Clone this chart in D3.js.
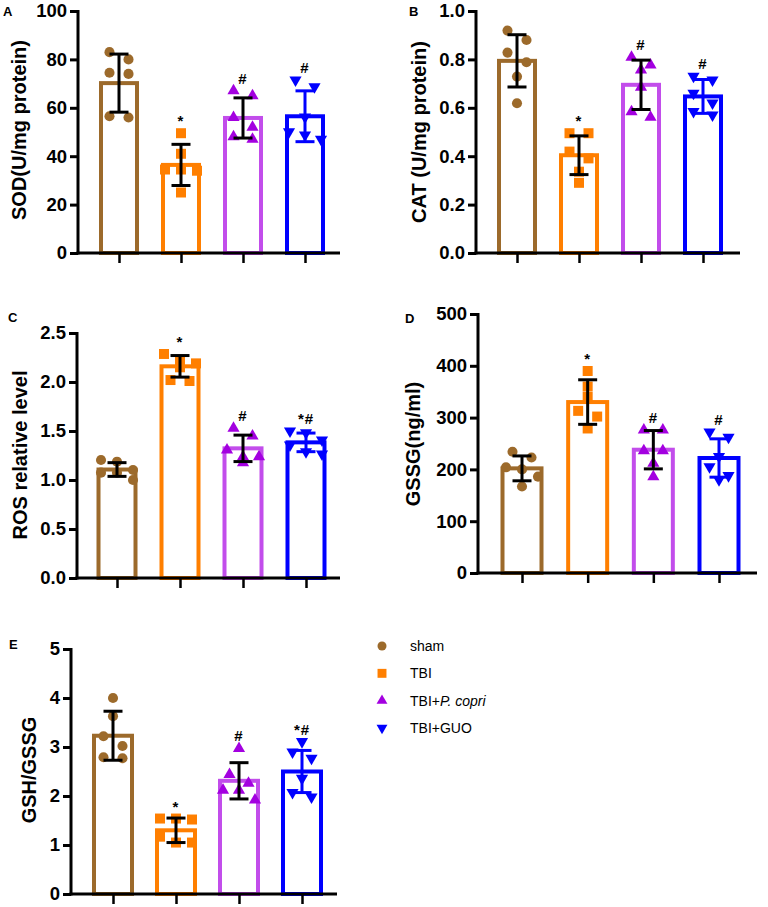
<!DOCTYPE html>
<html><head><meta charset="utf-8">
<script src="https://cdn.jsdelivr.net/npm/d3@7"></script>
<style>body{margin:0;background:#fff}svg{display:block;font-family:"Liberation Sans",Arial,sans-serif}</style>
</head><body><svg id="c" width="768" height="907"></svg>
<script>
const groups = ["sham", "TBI", "TBI+P. copri", "TBI+GUO"];
const barColors = ["#9C6A2B", "#FF7F00", "#C24DEB", "#0000FF"];
const pointColors = ["#9C6A2B", "#FF7F00", "#A300E0", "#0000FF"];
const errColors = ["#000000", "#000000", "#000000", "#0000FF"];

const sodMean = [70.2, 36.4, 55.8, 56.5];
const sodSD = [12, 8.5, 8.3, 10.5];
const sodPts = [[83, 80, 74, 74.5, 56, 56.5], [49.5, 41, 34.5, 34.5, 34, 25], [67, 65, 56, 52, 47, 48], [71.5, 68.7, 56.2, 50.1, 47, 48.8]];
const sodSig = ["", "*", "#", "#"];
const sodTicks = [0, 20, 40, 60, 80, 100];

const catMean = [0.794, 0.404, 0.695, 0.647];
const catSD = [0.108, 0.08, 0.102, 0.07];
const catPts = [[0.919, 0.88, 0.828, 0.788, 0.729, 0.619], [0.495, 0.495, 0.419, 0.391, 0.336, 0.29], [0.809, 0.777, 0.756, 0.685, 0.561, 0.584], [0.73, 0.715, 0.66, 0.62, 0.585, 0.57]];
const catSig = ["", "*", "#", "#"];
const catTicks = [0, 0.2, 0.4, 0.6, 0.8, 1.0];

const rosMean = [1.107, 2.16, 1.323, 1.384];
const rosSD = [0.07, 0.11, 0.135, 0.095];
const rosPts = [[1.204, 1.187, 1.102, 1.075, 1.075, 1.0], [2.286, 2.19, 2.224, 2.15, 2.01, 2.02], [1.527, 1.449, 1.306, 1.238, 1.177, 1.238], [1.5, 1.483, 1.408, 1.357, 1.289, 1.265]];
const rosSig = ["", "*", "#", "*#"];
const rosTicks = [0, 0.5, 1.0, 1.5, 2.0, 2.5];

const gssgMean = [202, 330, 238, 222];
const gssgSD = [24, 43, 37, 37];
const gssgPts = [[234, 223, 204, 200, 186, 167], [390, 360, 340, 313, 302, 279], [276, 276, 236, 236, 212, 186], [272, 262, 225, 205, 188, 180]];
const gssgSig = ["", "*", "#", "#"];
const gssgTicks = [0, 100, 200, 300, 400, 500];

const ratioMean = [3.23, 1.3, 2.31, 2.5];
const ratioSD = [0.5, 0.25, 0.37, 0.43];
const ratioPts = [[4.0, 3.63, 3.22, 3.02, 2.77, 2.79], [1.54, 1.52, 1.54, 1.17, 1.05, 1.05], [2.97, 2.44, 2.26, 2.12, 2.12, 1.92], [3.11, 2.9, 2.77, 2.36, 1.98, 2.07]];
const ratioSig = ["", "*", "#", "*#"];
const ratioTicks = [0, 1, 2, 3, 4, 5];

const svg = d3.select("#c");
const symbols = [d3.symbolCircle, d3.symbolSquare, d3.symbolTriangle, d3.symbolTriangle];
const symSizes = [80, 100, 64, 64];
const symRot = [0, 0, 0, 180];

const panels = [
  {label: "A", title: "SOD(U/mg protein)", mean: sodMean, sd: sodSD, pts: sodPts, sig: sodSig, ticks: sodTicks, fmt: d3.format("d"),
   x0: 78, x1: 340, c0: 119, c1: 305, yTop: 11, yBot: 253, lx: 3, ly: 16, tx: 19, ty: 130, bw: 36},
  {label: "B", title: "CAT (U/mg protein)", mean: catMean, sd: catSD, pts: catPts, sig: catSig, ticks: catTicks, fmt: d3.format(".1f"),
   x0: 476, x1: 740, c0: 517, c1: 703, yTop: 11, yBot: 253, lx: 409, ly: 16, tx: 419, ty: 132, bw: 36},
  {label: "C", title: "ROS relative level", mean: rosMean, sd: rosSD, pts: rosPts, sig: rosSig, ticks: rosTicks, fmt: d3.format(".1f"),
   x0: 77, x1: 340, c0: 117, c1: 306, yTop: 333, yBot: 578, lx: 8, ly: 322, tx: 20, ty: 455, bw: 37},
  {label: "D", title: "GSSG(ng/ml)", mean: gssgMean, sd: gssgSD, pts: gssgPts, sig: gssgSig, ticks: gssgTicks, fmt: d3.format("d"),
   x0: 478, x1: 757, c0: 522, c1: 719, yTop: 314, yBot: 573, lx: 405, ly: 323, tx: 413, ty: 444, bw: 39},
  {label: "E", title: "GSH/GSSG", mean: ratioMean, sd: ratioSD, pts: ratioPts, sig: ratioSig, ticks: ratioTicks, fmt: d3.format("d"),
   x0: 71, x1: 337, c0: 113, c1: 302, yTop: 649, yBot: 894, lx: 9, ly: 649, tx: 29, ty: 770, bw: 38}
];

function layoutPoints(vals, y) {
  const items = vals.map(v => ({v, py: y(v)})).sort((a, b) => a.py - b.py);
  const out = [];
  let i = 0;
  while (i < items.length) {
    const grp = [items[i]];
    let j = i + 1;
    while (j < items.length && items[j].py - items[i].py < 10) { grp.push(items[j]); j++; }
    const n = grp.length;
    grp.forEach((g, k) => out.push({v: g.v, py: g.py, dx: (k - (n - 1) / 2) * (n === 2 ? 19 : 16)}));
    i = j;
  }
  return out;
}

panels.forEach(p => {
  const dom = [p.ticks[0], p.ticks[p.ticks.length - 1]];
  const y = d3.scaleLinear().domain(dom).range([p.yBot, p.yTop]);
  const x = d3.scalePoint().domain(groups).range([p.c0, p.c1]);
  const g = svg.append("g");

  g.selectAll("rect.bar").data(groups).join("rect")
    .attr("x", d => x(d) - p.bw / 2)
    .attr("y", (d, i) => y(p.mean[i]))
    .attr("width", p.bw)
    .attr("height", (d, i) => p.yBot - y(p.mean[i]))
    .attr("fill", "#fff")
    .attr("stroke", (d, i) => barColors[i])
    .attr("stroke-width", 4);

  groups.forEach((grp, i) => {
    const pts = layoutPoints(p.pts[i], y);
    g.selectAll(null).data(pts).join("path")
      .attr("d", d3.symbol().type(symbols[i]).size(symSizes[i]))
      .attr("transform", d => `translate(${x(grp) + d.dx},${d.py}) rotate(${symRot[i]})`)
      .attr("fill", pointColors[i]);
    const topPt = d3.min(pts, d => d.py) - 6;
    const topErr = y(p.mean[i] + p.sd[i]);
    if (p.sig[i]) {
      g.append("text").attr("x", x(grp)).attr("y", Math.min(topPt, topErr - 4) - 1)
        .attr("text-anchor", "middle").attr("font-size", 15).attr("font-weight", "bold")
        .attr("letter-spacing", 1).attr("fill", "#000").text(p.sig[i]);
    }
  });

  groups.forEach((grp, i) => {
    const cx = x(grp), hi = y(p.mean[i] + p.sd[i]), lo = y(p.mean[i] - p.sd[i]);
    const eg = g.append("g").attr("stroke", errColors[i]).attr("stroke-width", 3);
    eg.append("line").attr("x1", cx).attr("x2", cx).attr("y1", hi).attr("y2", lo);
    eg.append("line").attr("x1", cx - 9.5).attr("x2", cx + 9.5).attr("y1", hi).attr("y2", hi);
    eg.append("line").attr("x1", cx - 9.5).attr("x2", cx + 9.5).attr("y1", lo).attr("y2", lo);
  });

  const ya = g.append("g").attr("transform", `translate(${p.x0},0)`)
    .call(d3.axisLeft(y).tickValues(p.ticks).tickFormat(p.fmt).tickSize(8).tickSizeOuter(0).tickPadding(3));
  ya.select(".domain").attr("stroke", "#000").attr("stroke-width", 3).attr("d", `M0,${p.yTop - 1}V${p.yBot + 1.5}`);
  ya.selectAll(".tick line").attr("stroke", "#000").attr("stroke-width", 3);
  ya.selectAll(".tick text").attr("font-size", 18.5).attr("font-weight", "bold").attr("fill", "#000")
    .attr("font-family", "'Liberation Sans', Arial, sans-serif");

  const xa = g.append("g").attr("transform", `translate(0,${p.yBot})`)
    .call(d3.axisBottom(x).tickSize(10).tickSizeOuter(0).tickFormat(""));
  xa.select(".domain").attr("stroke", "#000").attr("stroke-width", 3).attr("d", `M${p.x0 - 1.5},0H${p.x1}`);
  xa.selectAll(".tick line").attr("stroke", "#000").attr("stroke-width", 2.5);

  g.append("text").attr("transform", `translate(${p.tx},${p.ty}) rotate(-90)`)
    .attr("text-anchor", "middle").attr("dominant-baseline", "central")
    .attr("font-size", 20).attr("font-weight", "bold").attr("fill", "#000").text(p.title);

  g.append("text").attr("x", p.lx).attr("y", p.ly).attr("font-size", 13).attr("font-weight", "bold")
    .attr("fill", "#000").text(p.label);
});

const legYs = d3.scalePoint().domain(groups).range([646, 728]);
const lg = svg.append("g");
groups.forEach((grp, i) => {
  const yy = legYs(grp);
  lg.append("path").attr("d", d3.symbol().type(symbols[i]).size(symSizes[i] * 0.8))
    .attr("transform", `translate(382,${yy}) rotate(${symRot[i]})`).attr("fill", pointColors[i]);
  const t = lg.append("text").attr("x", 410).attr("y", yy + 5).attr("font-size", 14).attr("fill", "#000");
  if (grp === "TBI+P. copri") {
    t.append("tspan").text("TBI+");
    t.append("tspan").attr("font-style", "italic").text("P. copri");
  } else t.text(grp);
});
</script></body></html>
